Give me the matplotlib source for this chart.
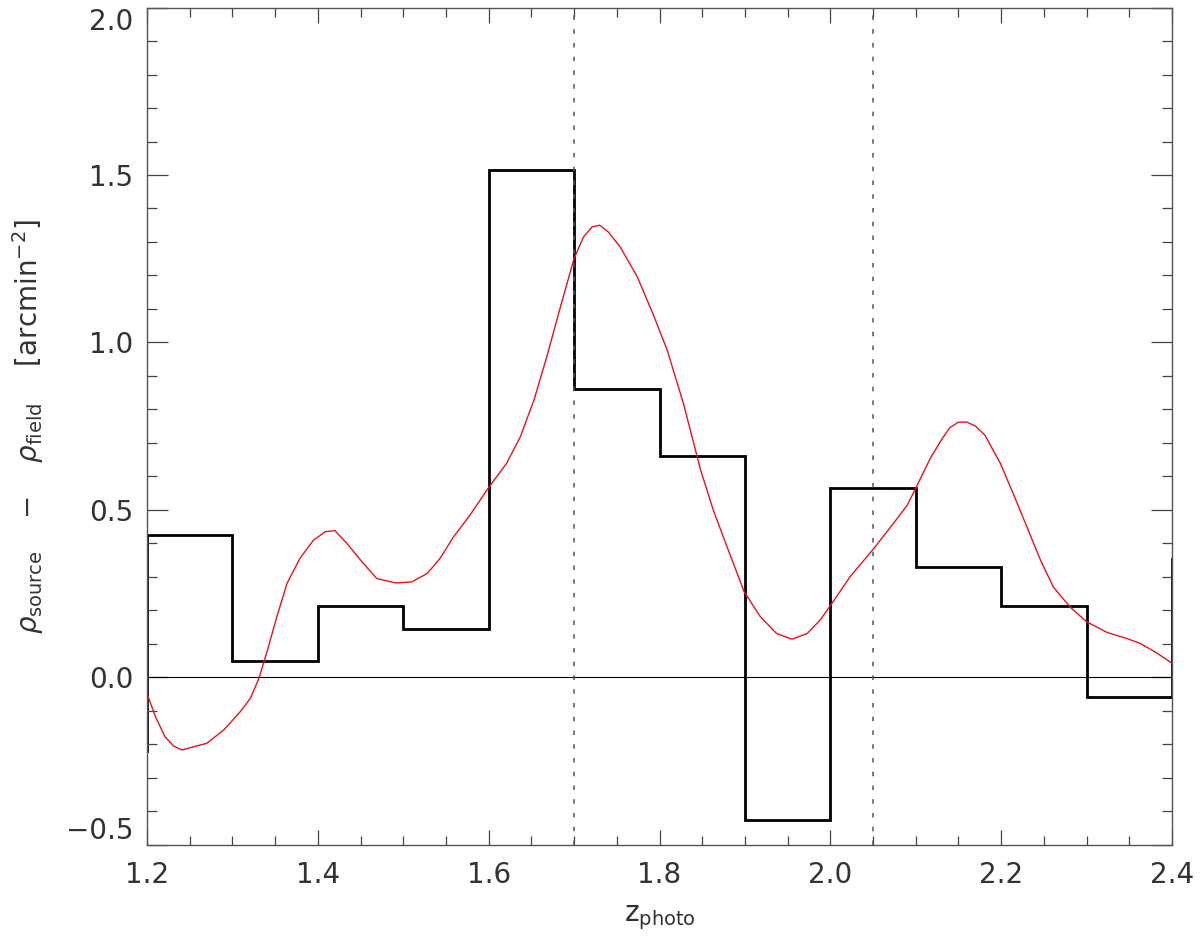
import numpy as np
import matplotlib
matplotlib.use("Agg")
import matplotlib.pyplot as plt
from matplotlib.ticker import MultipleLocator, FuncFormatter

plt.rcParams['font.family'] = ['DejaVu Sans']
plt.rcParams['mathtext.fontset'] = 'dejavusans'

# histogramme (bins de 0.1, les bins extremes sont coupes par les axes)
bin_edges = [1.1, 1.2, 1.3, 1.4, 1.5, 1.6, 1.7, 1.8, 1.9, 2.0, 2.1, 2.2, 2.3, 2.4, 2.5]
hist_vals = [-0.221, 0.425, 0.049, 0.212, 0.143, 1.515, 0.861, 0.662,
             -0.425, 0.566, 0.330, 0.213, -0.058, 0.353]

# courbe lissee (rouge)
z_curve = [1.200, 1.210, 1.221, 1.231, 1.241, 1.255, 1.270, 1.290, 1.309, 1.321,
           1.331, 1.340, 1.352, 1.364, 1.379, 1.395, 1.409, 1.420, 1.434, 1.450,
           1.469, 1.491, 1.510, 1.528, 1.543, 1.559, 1.578, 1.600, 1.621, 1.637,
           1.653, 1.668, 1.684, 1.700, 1.711, 1.721, 1.730, 1.740, 1.754, 1.774,
           1.793, 1.809, 1.828, 1.848, 1.863, 1.879, 1.899, 1.918, 1.937, 1.955,
           1.973, 1.988, 2.000, 2.023, 2.050, 2.074, 2.090, 2.100, 2.117, 2.131,
           2.140, 2.150, 2.160, 2.170, 2.181, 2.199, 2.214, 2.230, 2.246, 2.261,
           2.281, 2.300, 2.324, 2.347, 2.363, 2.382, 2.400]
rho_curve = [-0.048, -0.118, -0.177, -0.205, -0.217, -0.207, -0.197, -0.157, -0.103, -0.063,
             -0.003, 0.072, 0.181, 0.281, 0.355, 0.410, 0.435, 0.438, 0.400, 0.350,
             0.295, 0.282, 0.285, 0.310, 0.355, 0.420, 0.484, 0.567, 0.639, 0.718,
             0.828, 0.957, 1.106, 1.251, 1.315, 1.345, 1.350, 1.330, 1.285, 1.196,
             1.081, 0.977, 0.818, 0.620, 0.499, 0.390, 0.256, 0.181, 0.131, 0.114,
             0.131, 0.171, 0.214, 0.300, 0.382, 0.460, 0.514, 0.565, 0.654, 0.713,
             0.746, 0.762, 0.762, 0.750, 0.723, 0.639, 0.549, 0.450, 0.350, 0.270,
             0.209, 0.166, 0.134, 0.116, 0.101, 0.073, 0.042]

# lignes verticales pointillees
z_marks = [1.70, 2.05]

fig = plt.figure(figsize=(12, 9.44), dpi=100)
ax = fig.add_axes([0.1225, 0.1051, 0.8542, 0.8869])

ax.axhline(0.0, color='black', lw=0.8)
for zm in z_marks:
    ax.axvline(zm, color='#555555', lw=1.1, linestyle=(0, (3, 6)))
ax.plot(z_curve, rho_curve, color='#e8121a', lw=1.0)
ax.stairs(hist_vals, bin_edges, baseline=None, color='black', lw=2.0)

ax.set_xlim(1.2, 2.4)
ax.set_ylim(-0.5, 2.0)
ax.xaxis.set_major_locator(MultipleLocator(0.2))
ax.xaxis.set_minor_locator(MultipleLocator(0.05))
ax.yaxis.set_major_locator(MultipleLocator(0.5))
ax.yaxis.set_minor_locator(MultipleLocator(0.1))
fmt = FuncFormatter(lambda v, p: ('%.1f' % v).replace('-', '\u2212'))
ax.xaxis.set_major_formatter(fmt)
ax.yaxis.set_major_formatter(fmt)

for s in ax.spines.values():
    s.set_color('#555555')
    s.set_linewidth(1.0)
ax.tick_params(which='both', direction='in', top=True, right=True, color='#444444',
               labelcolor='#333333', labelsize=20, width=0.9)
ax.tick_params(axis='x', which='major', length=11, pad=12)
ax.tick_params(axis='x', which='minor', length=6.5)
ax.tick_params(axis='y', which='major', length=15, pad=10)
ax.tick_params(axis='y', which='minor', length=7.5)

ax.set_xlabel(r'$\mathrm{z}_{\mathrm{photo}}$', fontsize=20, color='#333333', labelpad=10)
ax.set_ylabel(r'$\rho_{\mathrm{source}}\ \ \ -\ \ \ \rho_{\mathrm{field}}\ \ \ \ [\mathrm{arcmin}^{-2}]$',
              fontsize=20, color='#333333', labelpad=14)

# comme dans la figure d'origine : 2.0 colle en haut, -0.5 colle en bas
fig.canvas.draw()
for t in ax.yaxis.get_major_ticks():
    if abs(t.get_loc() - 2.0) < 1e-6:
        t.label1.set_va('top')
    elif abs(t.get_loc() + 0.5) < 1e-6:
        t.label1.set_va('bottom')

plt.savefig('out.png', dpi=100)
